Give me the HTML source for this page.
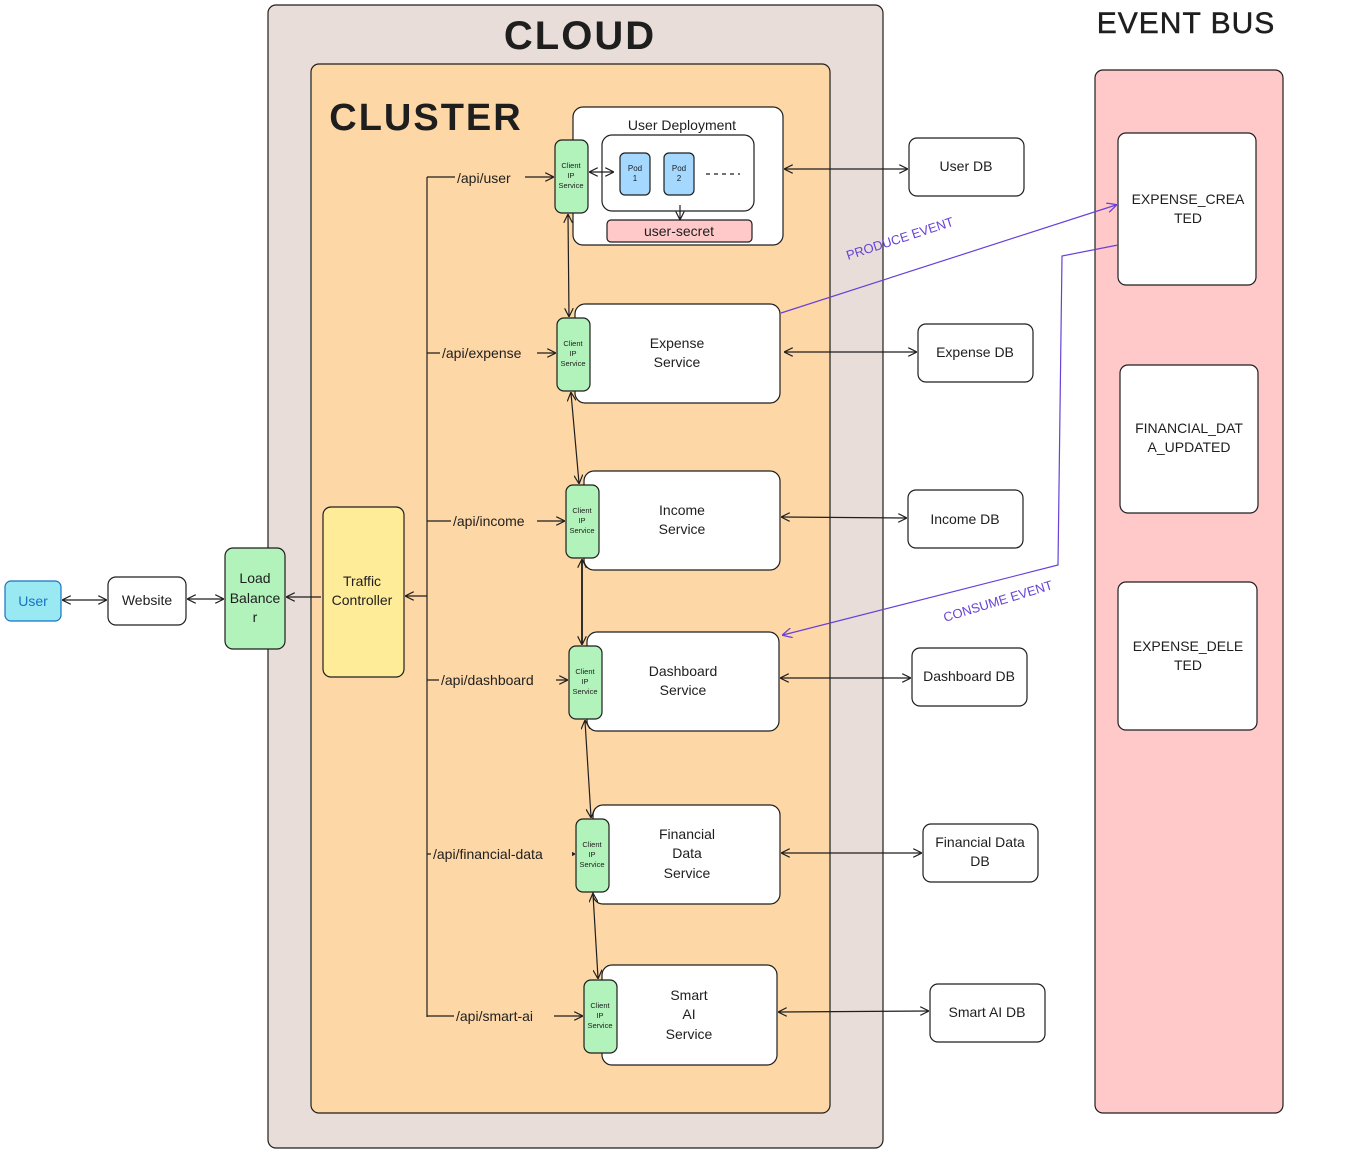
<!DOCTYPE html>
<html><head><meta charset="utf-8"><style>
html,body{margin:0;padding:0;background:#fff;}
svg{display:block;font-family:"Liberation Sans",sans-serif;}
</style></head><body>
<svg width="1354" height="1153" viewBox="0 0 1354 1153" xmlns="http://www.w3.org/2000/svg">
<defs>
<marker id="a" viewBox="0 0 10 10" refX="9" refY="5" markerWidth="9" markerHeight="9" orient="auto-start-reverse" markerUnits="userSpaceOnUse"><path d="M0,0 L10,5 L0,10" fill="none" stroke="#1e1e1e" stroke-width="1.3"/></marker>
<marker id="p" viewBox="0 0 10 10" refX="9" refY="5" markerWidth="10" markerHeight="10" orient="auto" markerUnits="userSpaceOnUse"><path d="M0,0 L10,5 L0,10" fill="none" stroke="#6741d9" stroke-width="1.3"/></marker>
</defs>
<g stroke="#1e1e1e" stroke-width="1.2">
<rect x="268" y="5" width="615" height="1143" rx="8" fill="#e8ddd8"/>
<rect x="311" y="64" width="519" height="1049" rx="8" fill="#fed7a6"/>
<rect x="1095" y="70" width="188" height="1043" rx="8" fill="#ffc9c9"/>
<rect x="1118" y="133" width="138" height="152" rx="8" fill="#fff"/>
<rect x="1120" y="365" width="138" height="148" rx="8" fill="#fff"/>
<rect x="1118" y="582" width="139" height="148" rx="8" fill="#fff"/>
<rect x="5" y="581" width="56" height="40" rx="6" fill="#99e9f2" stroke="#1971c2"/>
<rect x="108" y="577" width="78" height="48" rx="8" fill="#fff"/>
<rect x="225" y="548" width="60" height="101" rx="8" fill="#b2f2bb"/>
<rect x="323" y="507" width="81" height="170" rx="8" fill="#ffec99"/>
<rect x="573" y="107" width="210" height="138" rx="10" fill="#fff"/>
<rect x="602" y="135" width="152" height="76" rx="10" fill="#fff"/>
<rect x="620" y="153" width="30" height="42" rx="5" fill="#a5d8ff"/>
<rect x="664" y="153" width="30" height="42" rx="5" fill="#a5d8ff"/>
<rect x="607" y="220" width="145" height="22" rx="4" fill="#ffc9c9"/>
<rect x="575" y="304" width="205" height="99" rx="10" fill="#fff"/>
<rect x="584" y="471" width="196" height="99" rx="10" fill="#fff"/>
<rect x="587" y="632" width="192" height="99" rx="10" fill="#fff"/>
<rect x="593" y="805" width="187" height="99" rx="10" fill="#fff"/>
<rect x="602" y="965" width="175" height="100" rx="10" fill="#fff"/>
<rect x="555" y="140" width="33" height="73" rx="7" fill="#b2f2bb"/>
<rect x="557" y="318" width="33" height="73" rx="7" fill="#b2f2bb"/>
<rect x="566" y="485" width="33" height="73" rx="7" fill="#b2f2bb"/>
<rect x="569" y="646" width="33" height="73" rx="7" fill="#b2f2bb"/>
<rect x="576" y="819" width="33" height="73" rx="7" fill="#b2f2bb"/>
<rect x="584" y="980" width="33" height="73" rx="7" fill="#b2f2bb"/>
<rect x="909" y="138" width="115" height="58" rx="8" fill="#fff"/>
<rect x="918" y="324" width="115" height="58" rx="8" fill="#fff"/>
<rect x="908" y="490" width="115" height="58" rx="8" fill="#fff"/>
<rect x="912" y="648" width="115" height="58" rx="8" fill="#fff"/>
<rect x="923" y="824" width="115" height="58" rx="8" fill="#fff"/>
<rect x="930" y="984" width="115" height="58" rx="8" fill="#fff"/>
</g>
<g stroke="#1e1e1e" stroke-width="1.2" fill="none">
<line x1="63" y1="600" x2="106" y2="600" marker-start="url(#a)" marker-end="url(#a)"/>
<line x1="188" y1="599" x2="223" y2="599" marker-start="url(#a)" marker-end="url(#a)"/>
<line x1="321" y1="597" x2="287" y2="597" marker-end="url(#a)"/>
<line x1="427" y1="177" x2="427" y2="1017"/>
<line x1="427" y1="596" x2="406" y2="596" marker-end="url(#a)"/>
<line x1="427" y1="177" x2="553" y2="177" marker-end="url(#a)"/>
<line x1="427" y1="353" x2="555" y2="353" marker-end="url(#a)"/>
<line x1="427" y1="521" x2="564" y2="521" marker-end="url(#a)"/>
<line x1="427" y1="680" x2="567" y2="680" marker-end="url(#a)"/>
<line x1="427" y1="854" x2="574" y2="854" marker-end="url(#a)"/>
<line x1="427" y1="1016" x2="582" y2="1016" marker-end="url(#a)"/>
<line x1="590" y1="172" x2="613" y2="172" marker-start="url(#a)" marker-end="url(#a)"/>
<line x1="680" y1="205" x2="680" y2="219" marker-end="url(#a)"/>
<line x1="706" y1="174" x2="740" y2="174" stroke-dasharray="4 4"/>
<line x1="568" y1="215" x2="569" y2="316" marker-start="url(#a)" marker-end="url(#a)"/>
<line x1="571" y1="393" x2="579" y2="483" marker-start="url(#a)" marker-end="url(#a)"/>
<line x1="582" y1="560" x2="582" y2="644" marker-start="url(#a)" marker-end="url(#a)" stroke-width="1.8"/>
<line x1="585" y1="721" x2="591" y2="817" marker-start="url(#a)" marker-end="url(#a)"/>
<line x1="593" y1="894" x2="598" y2="978" marker-start="url(#a)" marker-end="url(#a)"/>
<line x1="785" y1="169" x2="907" y2="169" marker-start="url(#a)" marker-end="url(#a)"/>
<line x1="785" y1="352" x2="916" y2="352" marker-start="url(#a)" marker-end="url(#a)"/>
<line x1="782" y1="517" x2="906" y2="518" marker-start="url(#a)" marker-end="url(#a)"/>
<line x1="781" y1="678" x2="910" y2="678" marker-start="url(#a)" marker-end="url(#a)"/>
<line x1="782" y1="853" x2="921" y2="853" marker-start="url(#a)" marker-end="url(#a)"/>
<line x1="779" y1="1012" x2="928" y2="1011" marker-start="url(#a)" marker-end="url(#a)"/>
<line x1="781" y1="313" x2="1116" y2="205" stroke="#6741d9" marker-end="url(#p)"/>
<polyline points="1118,245 1062,256 1058,565 783,635" stroke="#6741d9" marker-end="url(#p)"/>
</g>
<g fill="#fed7a6">
<rect x="455" y="169" width="70" height="17"/>
<rect x="440" y="345" width="97" height="17"/>
<rect x="451" y="513" width="86" height="17"/>
<rect x="439" y="672" width="117" height="17"/>
<rect x="431" y="846" width="141" height="17"/>
<rect x="454" y="1008" width="100" height="17"/>
</g>
<g fill="#1e1e1e" text-anchor="middle">
<text x="580" y="49" font-size="40" font-weight="bold" letter-spacing="2">CLOUD</text>
<text x="426" y="130" font-size="38" font-weight="bold" letter-spacing="2">CLUSTER</text>
<text x="1186" y="33" font-size="30" letter-spacing="1" stroke="#1e1e1e" stroke-width="0.5">EVENT BUS</text>
<text x="33" y="606" font-size="14" fill="#1971c2">User</text>
<text x="147" y="605" font-size="14">Website</text>
<text x="255" y="583" font-size="14">Load</text>
<text x="255" y="603" font-size="14">Balance</text>
<text x="255" y="622" font-size="14">r</text>
<text x="362" y="586" font-size="14">Traffic</text>
<text x="362" y="605" font-size="14">Controller</text>
<text x="682" y="130" font-size="14">User Deployment</text>
<text x="635" y="171" font-size="8">Pod</text><text x="635" y="181" font-size="8">1</text>
<text x="679" y="171" font-size="8">Pod</text><text x="679" y="181" font-size="8">2</text>
<text x="679" y="236" font-size="14">user-secret</text>
<g font-size="7.5">
<text x="571" y="168">Client</text><text x="571" y="178">IP</text><text x="571" y="188">Service</text>
<text x="573" y="346">Client</text><text x="573" y="356">IP</text><text x="573" y="366">Service</text>
<text x="582" y="513">Client</text><text x="582" y="523">IP</text><text x="582" y="533">Service</text>
<text x="585" y="674">Client</text><text x="585" y="684">IP</text><text x="585" y="694">Service</text>
<text x="592" y="847">Client</text><text x="592" y="857">IP</text><text x="592" y="867">Service</text>
<text x="600" y="1008">Client</text><text x="600" y="1018">IP</text><text x="600" y="1028">Service</text>
</g>
<g font-size="14">
<text x="677" y="348">Expense</text><text x="677" y="367">Service</text>
<text x="682" y="515">Income</text><text x="682" y="534">Service</text>
<text x="683" y="676">Dashboard</text><text x="683" y="695">Service</text>
<text x="687" y="839">Financial</text><text x="687" y="858">Data</text><text x="687" y="878">Service</text>
<text x="689" y="1000">Smart</text><text x="689" y="1019">AI</text><text x="689" y="1039">Service</text>
<text x="966" y="171">User DB</text>
<text x="975" y="357">Expense DB</text>
<text x="965" y="524">Income DB</text>
<text x="969" y="681">Dashboard DB</text>
<text x="980" y="847">Financial Data</text><text x="980" y="866">DB</text>
<text x="987" y="1017">Smart AI DB</text>
<text x="1188" y="204">EXPENSE_CREA</text><text x="1188" y="223">TED</text>
<text x="1189" y="433">FINANCIAL_DAT</text><text x="1189" y="452">A_UPDATED</text>
<text x="1188" y="651">EXPENSE_DELE</text><text x="1188" y="670">TED</text>
</g>
<g font-size="14" text-anchor="start">
<text x="457" y="183">/api/user</text>
<text x="442" y="358">/api/expense</text>
<text x="453" y="526">/api/income</text>
<text x="441" y="685">/api/dashboard</text>
<text x="433" y="859">/api/financial-data</text>
<text x="456" y="1021">/api/smart-ai</text>
</g>
<text x="0" y="0" font-size="13" fill="#6741d9" transform="translate(848,260) rotate(-18)" text-anchor="start">PRODUCE EVENT</text>
<text x="0" y="0" font-size="13" fill="#6741d9" transform="translate(945,622) rotate(-17)" text-anchor="start">CONSUME EVENT</text>
</g>
</svg>
</body></html>
